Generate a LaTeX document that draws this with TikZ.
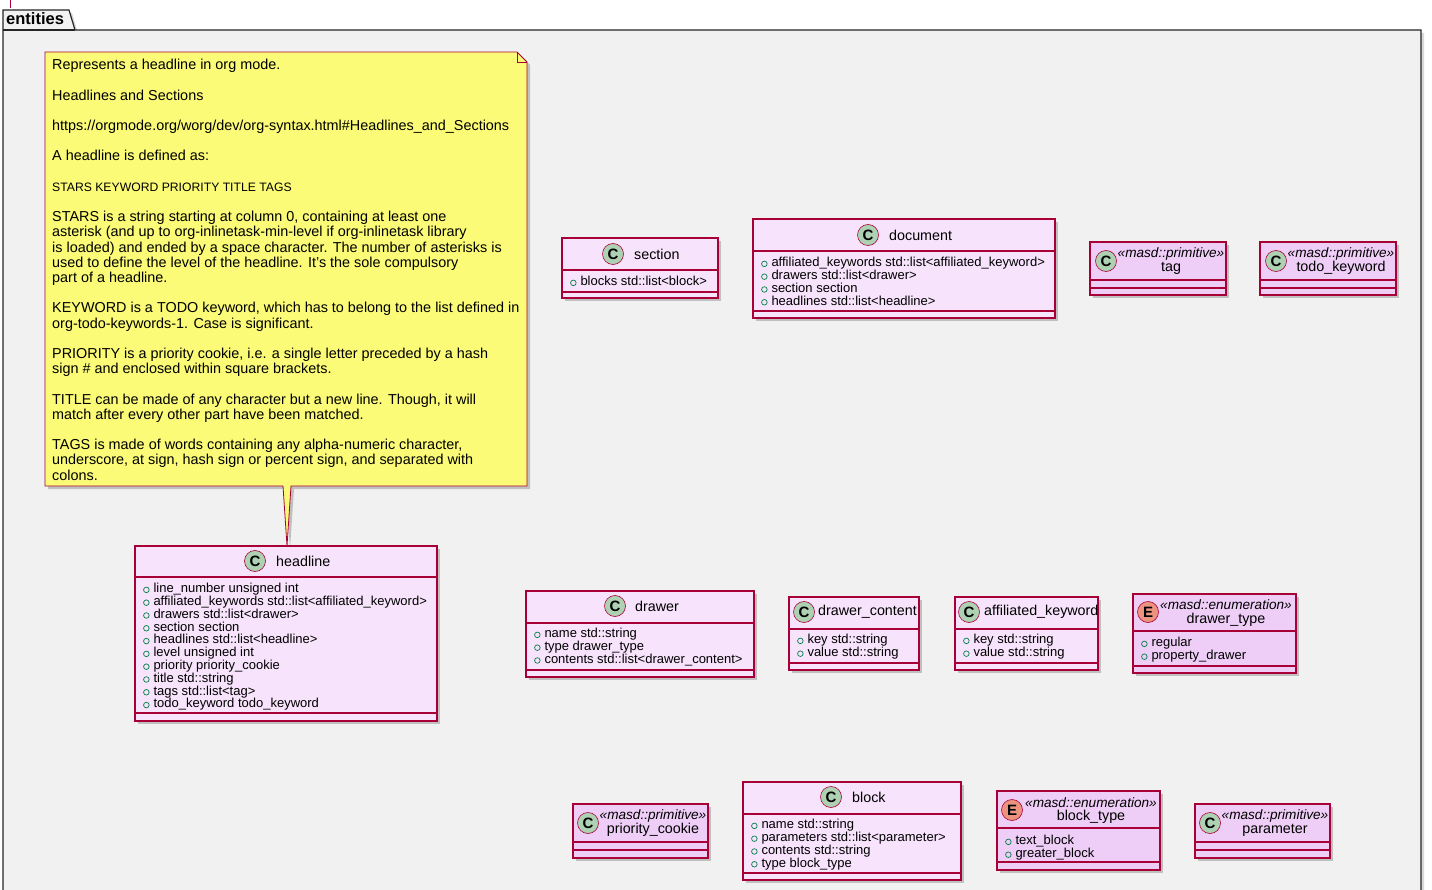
\documentclass[tikz,border=0pt]{standalone}
\usepackage{fontspec}
\setmainfont{Liberation Sans}
\usetikzlibrary{shadows}
\definecolor{bord}{HTML}{A80036}
\definecolor{clsfill}{HTML}{F7E3FB}
\definecolor{stfill}{HTML}{EECDF6}
\definecolor{notefill}{HTML}{FBFB77}
\definecolor{pkgfill}{HTML}{F1F1F1}
\definecolor{cgreen}{HTML}{ADD1B2}
\definecolor{eorange}{HTML}{EB937F}
\definecolor{visc}{HTML}{038048}
\newcommand\vis{\tikz[baseline=-0.4ex]\draw[visc,line width=.7pt] (0,0) circle(2.8pt);\hspace{4pt}}
\tikzset{
  shd/.style={drop shadow={shadow xshift=3pt,shadow yshift=-3pt,opacity=0.35,fill=black!60}},
  clsbox/.style={draw=bord,line width=1.3pt,shd},
  sep/.style={draw=bord,line width=1.1pt},
  ttl/.style={font=\fontsize{14.3}{16}\selectfont,inner sep=0pt,anchor=west},
  ster/.style={font=\fontsize{13.6}{15}\selectfont\itshape,inner sep=0pt},
  nm/.style={font=\fontsize{14.3}{16}\selectfont,inner sep=0pt},
  attr/.style={font=\fontsize{13}{12.8}\selectfont,inner sep=0pt,anchor=north west,align=left},
  circ/.style={circle,draw=bord,line width=0.6pt,minimum size=21pt,inner sep=0pt,font=\bfseries\fontsize{15}{15}\selectfont},
}
\newcommand\cls[6]{%
  \path[clsbox,fill=\clsfillc] (#2,#3) rectangle (#4,#5);
  \coordinate (#1) at ({(#2+#4)/2},{(#3+#5)/2});
  \draw[sep] (#2,#6) -- (#4,#6);
  \draw[sep] (#2,\lineb) -- (#4,\lineb);}
\begin{document}
\begin{tikzpicture}[x=1pt,y=-1pt]
\useasboundingbox (0,0) rectangle (1432,890);
\fill[white] (0,0) rectangle (1432,890);
% package
\draw[bord,line width=1pt] (10,0) -- (10,8);
\path[draw=black!85,line width=1.2pt,fill=pkgfill,drop shadow={shadow xshift=3pt,shadow yshift=-3pt,opacity=0.3}] (3,30) -- (3,10) -- (69,10) -- (75,30) -- (1421,30) -- (1421,895) -- (3,895) -- cycle;
\draw[black!85,line width=1.2pt] (3,30) -- (75,30);
\node[font=\bfseries\fontsize{16.5}{18}\selectfont,inner sep=0pt,anchor=west] (pkg) at (6,19) {entities};
% note
\path[draw=bord,line width=0.8pt,fill=notefill,shd] (45,52) -- (517,52) -- (527,62) -- (527,486) -- (291,486) -- (287,546) -- (283,486) -- (45,486) -- cycle;
\draw[bord,line width=0.8pt] (517,52) -- (517,62) -- (527,62);
\node[font=\fontsize{14.4}{15.2}\selectfont,inner sep=0pt,anchor=north west,align=left] (note) at (52,59) {Represents a headline in org mode.\\ \strut\\
Headlines and Sections\\ \strut\\
https://orgmode.org/worg/dev/org-syntax.html\#Headlines\_and\_Sections\\ \strut\\
A headline is defined as:\\ \strut\\
{\fontsize{12.2}{15.2}\selectfont STARS KEYWORD PRIORITY TITLE TAGS}\\ \strut\\
STARS is a string starting at column 0, containing at least one\\
asterisk (and up to org-inlinetask-min-level if org-inlinetask library\\
is loaded) and ended by a space character. The number of asterisks is\\
used to define the level of the headline. It's the sole compulsory\\
part of a headline.\\ \strut\\
KEYWORD is a TODO keyword, which has to belong to the list defined in\\
org-todo-keywords-1. Case is significant.\\ \strut\\
PRIORITY is a priority cookie, i.e. a single letter preceded by a hash\\
sign \# and enclosed within square brackets.\\ \strut\\
TITLE can be made of any character but a new line. Though, it will\\
match after every other part have been matched.\\ \strut\\
TAGS is made of words containing any alpha-numeric character,\\
underscore, at sign, hash sign or percent sign, and separated with\\
colons.};
% classes
\def\clsfillc{clsfill}
\def\lineb{292}\cls{section}{562}{238}{718}{298}{270}
\node[circ,fill=cgreen] at (613,254) {C}; \node[ttl] at (634,254) {section};
\node[attr] at (570,276) {\vis blocks std::list<block>};

\def\lineb{311}\cls{document}{753}{219}{1055}{318}{251}
\node[circ,fill=cgreen] at (868,235) {C}; \node[ttl] at (889,235) {document};
\node[attr] at (761,257) {\vis affiliated\_keywords std::list<affiliated\_keyword>\\\vis drawers std::list<drawer>\\\vis section section\\\vis headlines std::list<headline>};

\def\lineb{713}\cls{headline}{135}{546}{437}{721}{577}
\node[circ,fill=cgreen] at (255,561) {C}; \node[ttl] at (276,561) {headline};
\node[attr] at (143,583) {\vis line\_number unsigned int\\\vis affiliated\_keywords std::list<affiliated\_keyword>\\\vis drawers std::list<drawer>\\\vis section section\\\vis headlines std::list<headline>\\\vis level unsigned int\\\vis priority priority\_cookie\\\vis title std::string\\\vis tags std::list<tag>\\\vis todo\_keyword todo\_keyword};

\def\lineb{670}\cls{drawer}{526}{591}{754}{677}{623}
\node[circ,fill=cgreen] at (615,606) {C}; \node[ttl] at (635,606) {drawer};
\node[attr] at (534,628) {\vis name std::string\\\vis type drawer\_type\\\vis contents std::list<drawer\_content>};

\def\lineb{663}\cls{drawercontent}{789}{597}{919}{670}{629}
\node[circ,fill=cgreen] at (804,612) {C}; \node[ttl] at (818,612) {drawer\_content};
\node[attr] at (797,634) {\vis key std::string\\\vis value std::string};

\cls{affkw}{955}{597}{1098}{670}{629}
\node[circ,fill=cgreen] at (969,612) {C}; \node[ttl] at (984,612) {affiliated\_keyword};
\node[attr] at (963,634) {\vis key std::string\\\vis value std::string};

\def\lineb{873}\cls{block}{743}{782}{961}{880}{814}
\node[circ,fill=cgreen] at (831,797) {C}; \node[ttl] at (852,797) {block};
\node[attr] at (751,819) {\vis name std::string\\\vis parameters std::list<parameter>\\\vis contents std::string\\\vis type block\_type};

\def\clsfillc{stfill}
\def\lineb{288}\cls{tag}{1090}{242}{1226}{295}{280}
\node[circ,fill=cgreen] at (1106,261) {C}; \node[ster] at (1171,254) {«masd::primitive»}; \node[nm] at (1171,268) {tag};
\cls{todokw}{1260}{242}{1396}{295}{280}
\node[circ,fill=cgreen] at (1276,261) {C}; \node[ster] at (1341,254) {«masd::primitive»}; \node[nm] at (1341,268) {todo\_keyword};

\def\lineb{666}\cls{drawertype}{1133}{594}{1296}{673}{631}
\node[circ,fill=eorange] at (1148,612) {E}; \node[ster] at (1226,605) {«masd::enumeration»}; \node[nm] at (1226,620) {drawer\_type};
\node[attr] at (1141,637) {\vis regular\\\vis property\_drawer};

\def\lineb{850}\cls{prio}{573}{804}{708}{858}{842}
\node[circ,fill=cgreen] at (588,823) {C}; \node[ster] at (653,816) {«masd::primitive»}; \node[nm] at (653,830) {priority\_cookie};
\cls{parameter}{1195}{804}{1330}{858}{842}
\node[circ,fill=cgreen] at (1210,823) {C}; \node[ster] at (1275,816) {«masd::primitive»}; \node[nm] at (1275,830) {parameter};

\def\lineb{862}\cls{blocktype}{997}{791}{1160}{870}{828}
\node[circ,fill=eorange] at (1012,810) {E}; \node[ster] at (1091,803) {«masd::enumeration»}; \node[nm] at (1091,817) {block\_type};
\node[attr] at (1005,835) {\vis text\_block\\\vis greater\_block};
\end{tikzpicture}
\end{document}
